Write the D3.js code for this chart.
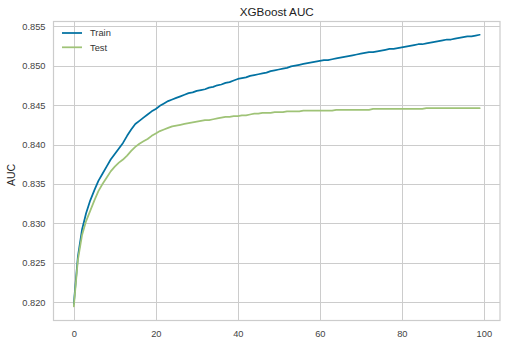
<!DOCTYPE html>
<html>
  <head>
  <title>XGBoost AUC</title>
  <script src="https://d3js.org/d3.v7.min.js"></script>
  </head>
  <body>
    <svg id="svg" width="506" height="343"></svg>
  </body>
</html>

<script>
  const iterations = d3.range(0, 100);
  const trainAuc = [
    0.8198, 0.8258, 0.8292, 0.8313, 0.8329, 0.8342, 0.8354, 0.8363, 0.8372, 0.8381,
    0.8388, 0.8395, 0.8402, 0.8411, 0.8419, 0.8426, 0.8430, 0.8434, 0.8438, 0.8442,
    0.8445, 0.8449, 0.8452, 0.8455, 0.8457, 0.8459, 0.8461, 0.8463, 0.8465, 0.8466,
    0.8468, 0.8469, 0.8470, 0.8472, 0.8473, 0.8475, 0.8476, 0.8478, 0.8479, 0.8481,
    0.8483, 0.8484, 0.8485, 0.8487, 0.8488, 0.8489, 0.8490, 0.8491, 0.8493, 0.8494,
    0.8495, 0.8496, 0.8497, 0.8499, 0.8500, 0.8501, 0.8502, 0.8503, 0.8504, 0.8505,
    0.8506, 0.8507, 0.8507, 0.8508, 0.8509, 0.8510, 0.8511, 0.8512, 0.8513, 0.8514,
    0.8515, 0.8516, 0.8517, 0.8517, 0.8518, 0.8519, 0.8520, 0.8521, 0.8521, 0.8522,
    0.8523, 0.8524, 0.8525, 0.8526, 0.8527, 0.8527, 0.8528, 0.8529, 0.8530, 0.8531,
    0.8532, 0.8533, 0.8533, 0.8534, 0.8535, 0.8536, 0.8537, 0.8537, 0.8538, 0.8539
  ];
  const testAuc = [
    0.8195, 0.8254, 0.8285, 0.8303, 0.8316, 0.8329, 0.8341, 0.8350, 0.8358, 0.8366,
    0.8372, 0.8377, 0.8381, 0.8386, 0.8392, 0.8397, 0.8401, 0.8404, 0.8407, 0.8411,
    0.8414, 0.8417, 0.8419, 0.8421, 0.8423, 0.8424, 0.8425, 0.8426, 0.8427, 0.8428,
    0.8429, 0.8430, 0.8431, 0.8431, 0.8432, 0.8433, 0.8434, 0.8435, 0.8435, 0.8436,
    0.8436, 0.8437, 0.8437, 0.8438, 0.8439, 0.8439, 0.8440, 0.8440, 0.8440, 0.8441,
    0.8441, 0.8441, 0.8442, 0.8442, 0.8442, 0.8442, 0.8443, 0.8443, 0.8443, 0.8443,
    0.8443, 0.8443, 0.8443, 0.8443, 0.8444, 0.8444, 0.8444, 0.8444, 0.8444, 0.8444,
    0.8444, 0.8444, 0.8444, 0.8445, 0.8445, 0.8445, 0.8445, 0.8445, 0.8445, 0.8445,
    0.8445, 0.8445, 0.8445, 0.8445, 0.8445, 0.8445, 0.8446, 0.8446, 0.8446, 0.8446,
    0.8446, 0.8446, 0.8446, 0.8446, 0.8446, 0.8446, 0.8446, 0.8446, 0.8446, 0.8446
  ];
  const xTicks = [0, 20, 40, 60, 80, 100];
  const yTicks = [0.820, 0.825, 0.830, 0.835, 0.840, 0.845, 0.850, 0.855];
  const seriesNames = ["Train", "Test"];
  const colors = ["#0272a2", "#9fc377"];

  const margin = {top: 21.5, right: 6, bottom: 22.5, left: 53.5};
  const width = 506, height = 343;
  const svg = d3.select("#svg");

  const x = d3.scaleLinear().domain([-4.95, 103.95]).range([margin.left, width - margin.right]);
  const y = d3.scaleLinear().domain([0.81771, 0.85558]).range([height - margin.bottom, margin.top]);

  // grid
  svg.append("g").selectAll("line").data(xTicks).join("line")
    .attr("x1", d => Math.round(x(d)) + 0.5).attr("x2", d => Math.round(x(d)) + 0.5)
    .attr("y1", margin.top).attr("y2", height - margin.bottom)
    .attr("stroke", "#cccccc").attr("stroke-width", 1);
  svg.append("g").selectAll("line").data(yTicks).join("line")
    .attr("y1", d => Math.round(y(d)) + 0.5).attr("y2", d => Math.round(y(d)) + 0.5)
    .attr("x1", margin.left).attr("x2", width - margin.right)
    .attr("stroke", "#cccccc").attr("stroke-width", 1);

  // frame
  svg.append("rect")
    .attr("x", margin.left).attr("y", margin.top)
    .attr("width", width - margin.right - margin.left)
    .attr("height", height - margin.bottom - margin.top)
    .attr("fill", "none").attr("stroke", "#cccccc").attr("stroke-width", 1.2);

  // axes (text only)
  const xAxis = svg.append("g")
    .attr("transform", `translate(0,${height - margin.bottom})`)
    .call(d3.axisBottom(x).tickValues(xTicks).tickSize(0).tickPadding(10));
  const yAxis = svg.append("g")
    .attr("transform", `translate(${margin.left},0)`)
    .call(d3.axisLeft(y).tickValues(yTicks).tickFormat(d3.format(".3f")).tickSize(0).tickPadding(8));
  [xAxis, yAxis].forEach(a => {
    a.select(".domain").remove();
    a.selectAll("text")
      .style("font-family", "'Liberation Sans', Arial, sans-serif")
      .style("font-size", "9.3px")
      .attr("fill", "#444");
  });

  // lines
  const line = d3.line().x((d, i) => x(iterations[i])).y(d => y(d));
  [trainAuc, testAuc].forEach((s, k) => {
    svg.append("path")
      .attr("d", line(s))
      .attr("fill", "none")
      .attr("stroke", colors[k])
      .attr("stroke-width", 1.75)
      .attr("stroke-linejoin", "round")
      .attr("stroke-linecap", "round");
  });

  // title and label
  svg.append("text")
    .attr("x", (margin.left + width - margin.right) / 2)
    .attr("y", 16)
    .attr("text-anchor", "middle")
    .style("font-family", "'Liberation Sans', Arial, sans-serif")
    .style("font-size", "11.7px")
    .attr("fill", "#222")
    .text("XGBoost AUC");

  svg.append("text")
    .attr("transform", `translate(14.5,${(margin.top + height - margin.bottom) / 2 + 4}) rotate(-90)`)
    .attr("text-anchor", "middle")
    .style("font-family", "'Liberation Sans', Arial, sans-serif")
    .style("font-size", "10.5px")
    .attr("fill", "#222")
    .text("AUC");

  // legend
  const legend = svg.append("g").attr("transform", "translate(62,33)");
  seriesNames.forEach((name, k) => {
    const g = legend.append("g").attr("transform", `translate(0,${k * 14.3})`);
    g.append("line").attr("x1", 0).attr("x2", 20).attr("y1", 0).attr("y2", 0)
      .attr("stroke", colors[k]).attr("stroke-width", 1.75);
    g.append("text").attr("x", 28).attr("y", 3.4)
      .style("font-family", "'Liberation Sans', Arial, sans-serif")
      .style("font-size", "9.3px")
      .attr("fill", "#333")
      .text(name);
  });
</script>

<style>
  body { margin: 0; background: #fff; }
  svg { display: block; }
</style>
